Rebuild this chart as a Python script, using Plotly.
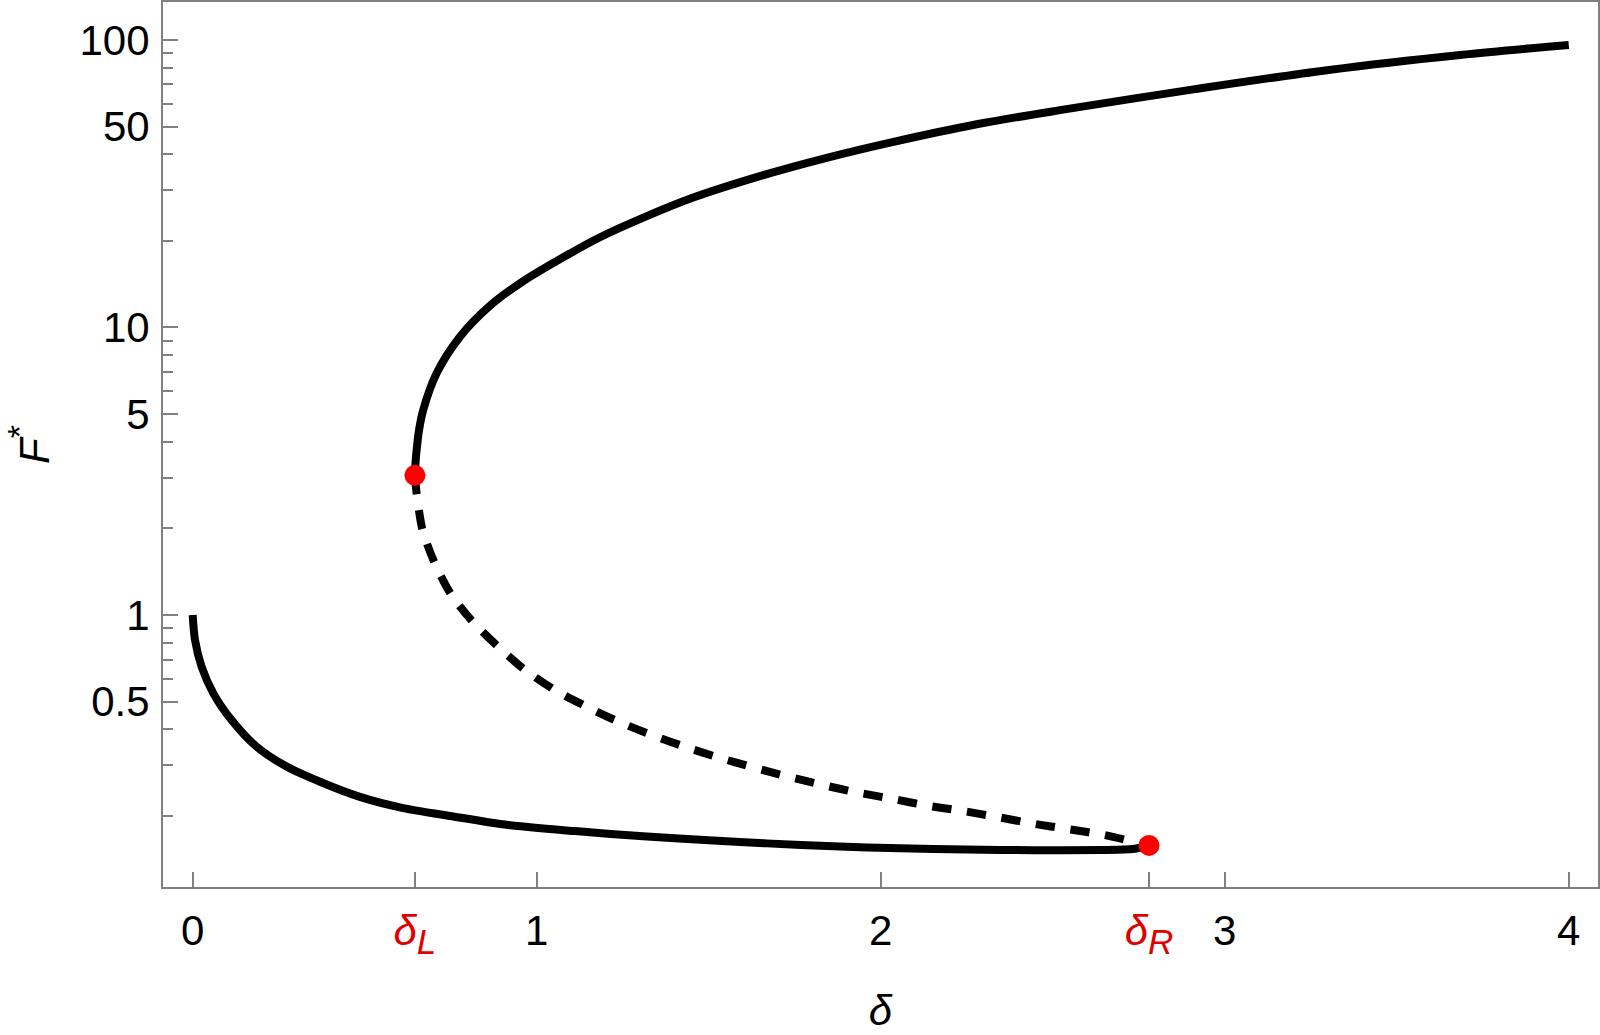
import plotly.graph_objects as go

# ---- data ----
upper_delta = [0.646, 0.648, 0.651, 0.658, 0.670, 0.709, 0.777, 0.864, 0.961, 1.097, 1.184,
               1.310, 1.455, 1.649, 1.843, 2.037, 2.279, 2.521, 2.909, 3.297, 3.684, 4.0]
upper_F = [3.06, 3.41, 3.75, 4.40, 5.16, 6.93, 9.29, 11.9, 14.5, 18.1, 20.6,
           24.1, 28.3, 33.6, 38.9, 44.2, 50.9, 57.0, 67.3, 78.5, 88.7, 96.1]

middle_delta = [0.646, 0.651, 0.668, 0.704, 0.753, 0.816, 0.888, 0.966, 1.053, 1.145, 1.237,
                1.334, 1.431, 1.530, 1.630, 1.731, 1.833, 1.935, 2.037, 2.138, 2.240, 2.342,
                2.444, 2.545, 2.647, 2.733, 2.780]
middle_F = [3.06, 2.65, 1.98, 1.51, 1.17, 0.942, 0.776, 0.644, 0.548, 0.480, 0.426,
            0.383, 0.348, 0.319, 0.295, 0.274, 0.256, 0.241, 0.229, 0.217, 0.208, 0.198,
            0.188, 0.180, 0.172, 0.163, 0.158]

lower_delta = [0.0, 0.0067, 0.026, 0.060, 0.113, 0.186, 0.273, 0.370, 0.486, 0.612, 0.748,
               0.917, 1.111, 1.320, 1.513, 1.669, 1.862, 2.056, 2.250, 2.444, 2.638, 2.734, 2.780]
lower_F = [1.0, 0.819, 0.661, 0.534, 0.431, 0.348, 0.297, 0.263, 0.233, 0.213, 0.200,
           0.186, 0.1772, 0.1697, 0.1643, 0.1606, 0.1568, 0.1543, 0.1528, 0.1520, 0.1523,
           0.1535, 0.158]

fold_delta = [0.646, 2.780]
fold_F = [3.06, 0.158]

delta_L = 0.646
delta_R = 2.780
RED_TXT = "#e00000"
x_tickvals = [0, delta_L, 1, 2, delta_R, 3, 4]
x_ticktext = ["0",
              f"<span style='color:{RED_TXT}'><i>δ</i><sub><span style='font-size:35px'><i>L</i></span></sub></span>",
              "1", "2",
              f"<span style='color:{RED_TXT}'><i>δ</i><sub><span style='font-size:35px'><i>R</i></span></sub></span>",
              "3", "4"]
y_tickvals = [0.5, 1, 5, 10, 50, 100]
y_ticktext = ["0.5", "1", "5", "10", "50", "100"]
y_minor = [0.2, 0.3, 0.4, 0.6, 0.7, 0.8, 0.9, 2, 3, 4, 6, 7, 8, 9,
           20, 30, 40, 60, 70, 80, 90]

FONT = "Liberation Sans, Arial, sans-serif"
AXC = "#808080"
LW = 8

fig = go.Figure()
fig.add_trace(go.Scatter(x=upper_delta, y=upper_F, mode="lines",
                         line=dict(color="black", width=LW, shape="spline", smoothing=0.9),
                         showlegend=False))
fig.add_trace(go.Scatter(x=middle_delta, y=middle_F, mode="lines",
                         line=dict(color="black", width=LW, dash="19px,16px",
                                   shape="spline", smoothing=0.8),
                         showlegend=False))
fig.add_trace(go.Scatter(x=lower_delta, y=lower_F, mode="lines",
                         line=dict(color="black", width=LW, shape="spline", smoothing=0.8),
                         showlegend=False))
fig.add_trace(go.Scatter(x=fold_delta, y=fold_F, mode="markers",
                         marker=dict(color="#ff0000", size=21), showlegend=False))

fig.update_layout(
    width=1600, height=1035,
    margin=dict(l=163, r=2, t=2, b=148, pad=0),
    paper_bgcolor="white", plot_bgcolor="white",
    font=dict(family=FONT, size=42, color="black"),
    xaxis=dict(
        range=[-0.0863, 4.085], automargin=False,
        tickmode="array", tickvals=x_tickvals, ticktext=x_ticktext,
        ticks="inside", ticklen=15, tickwidth=2, tickcolor=AXC,
        showline=True, linecolor=AXC, linewidth=2, mirror=True,
        showgrid=False, zeroline=False,
        tickfont=dict(size=42, family=FONT),
        ticklabelstandoff=6,
        title=dict(text="<i>δ</i>", font=dict(size=42, family=FONT), standoff=35),
    ),
    yaxis=dict(
        type="log", range=[-0.946, 2.132], automargin=False,
        tickmode="array", tickvals=y_tickvals, ticktext=y_ticktext,
        ticks="inside", ticklen=15, tickwidth=2, tickcolor=AXC,
        minor=dict(tickmode="array", tickvals=y_minor, ticks="inside",
                   ticklen=10, tickwidth=2, tickcolor=AXC, showgrid=False),
        showline=True, linecolor=AXC, linewidth=2, mirror=True,
        showgrid=False, zeroline=False,
        tickfont=dict(size=42, family=FONT),
        ticklabelstandoff=3,
        title=dict(text="<i>F</i><sup><span style='font-size:34px'>*</span></sup>",
                   font=dict(size=42, family=FONT), standoff=22),
    ),
)

fig.write_html("out.html", config={"displayModeBar": False},
               post_script="document.body.style.margin='0';")
